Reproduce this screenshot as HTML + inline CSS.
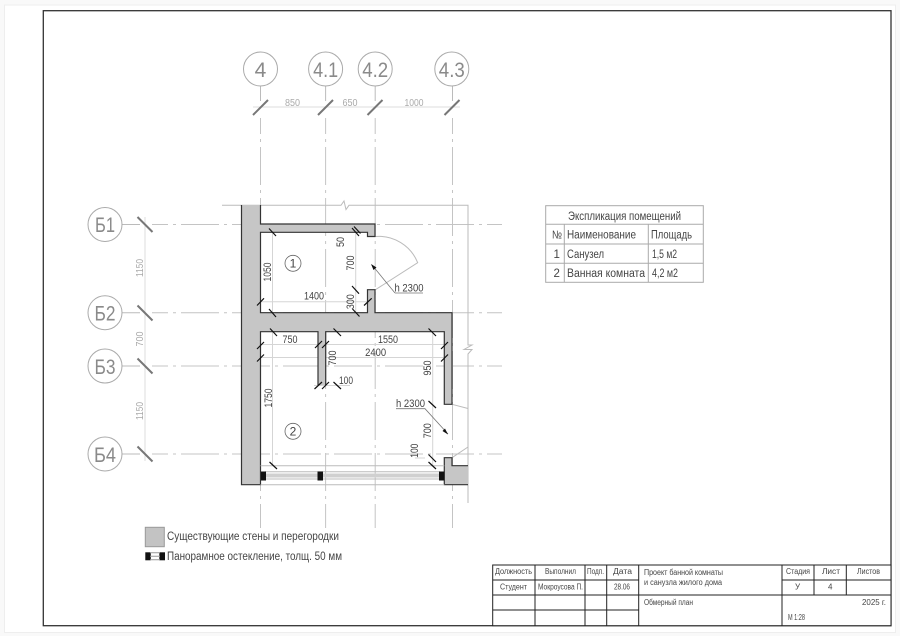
<!DOCTYPE html>
<html><head><meta charset="utf-8"><style>
html,body{margin:0;padding:0;background:#fff}
svg{display:block}
text{font-family:"Liberation Sans","DejaVu Sans",sans-serif;fill:#444}
</style></head><body>
<svg width="900" height="636" viewBox="0 0 900 636" xmlns="http://www.w3.org/2000/svg">
<rect width="900" height="636" fill="#f9f9f9"/>
<rect x="4.5" y="5" width="891" height="627.5" fill="#fff" stroke="#eee"/>
<rect x="43.3" y="10.7" width="847.7" height="615" fill="none" stroke="#333" stroke-width="1.3"/>

<!-- grid axes -->
<g stroke="#c4c4c4" stroke-width="1" fill="none" stroke-dasharray="38 5 3 5" stroke-dashoffset="22">
<path d="M260.5 118V528M325.6 118V528M375.2 118V528M452.5 118V528"/>
<path d="M152 224.5H502M152 312.7H502M152 366H502M152 454H502"/>
</g>
<g stroke="#bbb" stroke-width="1" fill="none">
<path d="M260.5 86V101M325.6 86V101M375.2 86V101M452.5 86V101"/>
<path d="M122 224.5H140M122 312.7H140M122 366H140M122 454H140"/>
</g>
<g stroke="#ddd" stroke-width="1" fill="none">
<path d="M253 107H460M145 217V461"/>
</g>
<g fill="#fff" stroke="#aaa" stroke-width="1">
<circle cx="260.5" cy="69" r="17"/><circle cx="325.6" cy="69" r="17"/><circle cx="375.2" cy="69" r="17"/><circle cx="451.8" cy="69" r="17"/>
<circle cx="105" cy="224.5" r="17"/><circle cx="105" cy="312.7" r="17"/><circle cx="105" cy="366" r="17"/><circle cx="105" cy="454" r="17"/>
</g>
<g stroke="#777" stroke-width="2" fill="none">
<path d="M253 115L268 100M318 115L333 100M367.5 115L382.5 100M444.5 115L459.5 100"/>
<path d="M137.5 217L152.5 232M137.5 305.5L152.5 320.5M137.5 358.5L152.5 373.5M137.5 446.5L152.5 461.5"/>
</g>
<g font-size="21" text-anchor="middle">
<text x="260.5" y="77" style="fill:#8a8a8a">4</text>
<text x="325.6" y="77" style="fill:#8a8a8a" textLength="25" lengthAdjust="spacingAndGlyphs">4.1</text>
<text x="375.2" y="77" style="fill:#8a8a8a" textLength="26" lengthAdjust="spacingAndGlyphs">4.2</text>
<text x="451.8" y="77" style="fill:#8a8a8a" textLength="26" lengthAdjust="spacingAndGlyphs">4.3</text>
<text x="105" y="232" style="fill:#8a8a8a" textLength="20" lengthAdjust="spacingAndGlyphs">Б1</text>
<text x="105" y="320.5" style="fill:#8a8a8a" textLength="21" lengthAdjust="spacingAndGlyphs">Б2</text>
<text x="105" y="373.8" style="fill:#8a8a8a" textLength="21" lengthAdjust="spacingAndGlyphs">Б3</text>
<text x="105" y="461.8" style="fill:#8a8a8a" textLength="22" lengthAdjust="spacingAndGlyphs">Б4</text>
</g>
<g font-size="10" text-anchor="middle">
<text x="292.5" y="106" style="fill:#aaa" textLength="15" lengthAdjust="spacingAndGlyphs">850</text>
<text x="350" y="106" style="fill:#aaa" textLength="15" lengthAdjust="spacingAndGlyphs">650</text>
<text x="414" y="106" style="fill:#aaa" textLength="19" lengthAdjust="spacingAndGlyphs">1000</text>
<text transform="translate(143 268) rotate(-90)" style="fill:#aaa" textLength="18" lengthAdjust="spacingAndGlyphs">1150</text>
<text transform="translate(143 339) rotate(-90)" style="fill:#aaa" textLength="15" lengthAdjust="spacingAndGlyphs">700</text>
<text transform="translate(143 411) rotate(-90)" style="fill:#aaa" textLength="18" lengthAdjust="spacingAndGlyphs">1150</text>
</g>

<!-- building outline helpers -->
<g fill="none" stroke="#bbb" stroke-width="1">
<path d="M222 205.3H341L344 201L346 209.5L349 205.3H468V345L472 345L464 349.5L472 349.5L468 354V503"/>
<path d="M375 236.5A42 42 0 0 1 417.7 262.7L375 290"/>
<path d="M452 404.3L468 408.5M452 457.7L468 447"/>
</g>

<!-- dimension lines -->
<g fill="none" stroke="#d5d5d5" stroke-width="1">
<path d="M272.5 232V312.7M272.5 332V465.7M257 301.7H372M257 344.5H448M257 357.5H448M355.7 226V316M432.7 332V466M325.7 332V385M314 385.500H350M415 458H425"/>
</g>

<!-- walls -->
<path d="M241.5 205H260.5V224H375V236.5H367.5V232.3H260.5V312.7H367.5V289.7H375V312.7H452V404.3H444.3V331.7H325.7V385H318V331.7H260.5V484.7H241.5Z" fill="#c6c6c6"/>
<path d="M444.3 457.7H452V465.7H468V484.7H444.3Z" fill="#c6c6c6"/>
<g fill="none" stroke="#333" stroke-width="1.2">
<path d="M260.5 205V224H375V236.5H367.5V232.3H260.5V312.7H367.5V289.7H375V312.7H452V404.3H444.3V331.7H325.7V385M318 385V331.7H260.5V484.7H241.5V205"/>
<path d="M468 465.7H452V457.7H444.3V484.7H468"/>
</g>

<!-- window -->
<g fill="none" stroke="#bbb" stroke-width="1">
<path d="M260.5 465.7H444.3M260.5 484.7H444.3M265 471.7H440M265 479H440"/>
</g>
<rect x="265" y="473.5" width="175" height="4" fill="#d0d0d0"/>
<g fill="#111">
<rect x="261" y="471.5" width="5" height="9"/><rect x="317.5" y="471.5" width="5.5" height="9"/><rect x="439" y="471.5" width="5.3" height="9"/>
</g>

<!-- dimension ticks -->
<g fill="none" stroke="#111" stroke-width="1.2">
<path d="M269 228.5L276 236M269 309L276 317M257 305.5L264 298.3M364 305.5L371.7 298.3"/>
<path d="M352 228L359 236M354 226.5L360.5 233.5M352 286L359 293.7M352.5 309L359.5 316.5"/>
<path d="M270 328.5L277 336M333.5 328.5L341 336M428.5 328.5L436 336"/>
<path d="M257 349L264 342M257 361.5L264 354.5M315 348L322 341M322 348L329 341M441 349L448 342M441 361.5L448 354.5"/>
<path d="M314.5 389L322 382M322 389L329 382M333.5 382L341 389"/>
<path d="M428.5 401L436 408M428.5 454.5L436 462M428.5 462L436 469M269.5 462L277 469"/>
</g>

<!-- leaders -->
<g fill="none" stroke="#777" stroke-width="0.8">
<path d="M395 293H423M395 293L372 265"/>
<path d="M396 408.7H425L448 434"/>
</g>
<path d="M371 264L376.5 267.5L373.5 270Z" fill="#111"/>
<path d="M448 434.5L442.5 431L445 428.5Z" fill="#111"/>

<!-- plan dims -->
<g font-size="11" text-anchor="middle" lengthAdjust="spacingAndGlyphs">
<text transform="translate(271 272) rotate(-90)" textLength="19" lengthAdjust="spacingAndGlyphs">1050</text>
<text x="314" y="299.5" textLength="20" lengthAdjust="spacingAndGlyphs">1400</text>
<text transform="translate(344 242) rotate(-90)" textLength="10" lengthAdjust="spacingAndGlyphs">50</text>
<text transform="translate(354 263) rotate(-90)" textLength="15" lengthAdjust="spacingAndGlyphs">700</text>
<text transform="translate(354 301.7) rotate(-90)" textLength="15" lengthAdjust="spacingAndGlyphs">300</text>
<text x="290" y="343" textLength="15" lengthAdjust="spacingAndGlyphs">750</text>
<text x="388" y="343" textLength="20" lengthAdjust="spacingAndGlyphs">1550</text>
<text x="375.6" y="356" textLength="21" lengthAdjust="spacingAndGlyphs">2400</text>
<text transform="translate(336 358) rotate(-90)" textLength="15" lengthAdjust="spacingAndGlyphs">700</text>
<text x="346" y="384" textLength="14" lengthAdjust="spacingAndGlyphs">100</text>
<text transform="translate(431 368) rotate(-90)" textLength="15" lengthAdjust="spacingAndGlyphs">950</text>
<text transform="translate(431 430.7) rotate(-90)" textLength="15" lengthAdjust="spacingAndGlyphs">700</text>
<text transform="translate(418 450.7) rotate(-90)" textLength="14" lengthAdjust="spacingAndGlyphs">100</text>
<text transform="translate(272 398) rotate(-90)" textLength="19" lengthAdjust="spacingAndGlyphs">1750</text>
<text x="409" y="291.5" textLength="29" lengthAdjust="spacingAndGlyphs">h 2300</text>
<text x="410.5" y="407" textLength="29" lengthAdjust="spacingAndGlyphs">h 2300</text>
</g>
<g fill="#fff" stroke="#666" stroke-width="0.8"><circle cx="293" cy="263.3" r="8"/><circle cx="293" cy="431.3" r="8"/></g>
<g font-size="12" text-anchor="middle"><text x="293" y="267.5">1</text><text x="293" y="435.5">2</text></g>

<!-- explication table -->
<g fill="none" stroke="#aaa" stroke-width="1">
<rect x="545.7" y="205.7" width="157.6" height="76.6"/>
<path d="M545.7 224.3H703.3M545.7 244H703.3M545.7 263.3H703.3M564.3 224.3V282.3M648.3 224.3V282.3"/>
</g>
<g font-size="11.5">
<text x="568" y="220" textLength="113" lengthAdjust="spacingAndGlyphs">Экспликация помещений</text>
<text x="552" y="238.5" textLength="10" lengthAdjust="spacingAndGlyphs">№</text>
<text x="567" y="238.5" textLength="69" lengthAdjust="spacingAndGlyphs">Наименование</text>
<text x="651" y="238.5" textLength="41" lengthAdjust="spacingAndGlyphs">Площадь</text>
<text x="553.5" y="258">1</text><text x="567" y="258" textLength="37" lengthAdjust="spacingAndGlyphs">Санузел</text><text x="652" y="258" textLength="25" lengthAdjust="spacingAndGlyphs">1,5 м2</text>
<text x="553.5" y="277">2</text><text x="567" y="277" textLength="78" lengthAdjust="spacingAndGlyphs">Ванная комната</text><text x="652" y="277" textLength="26" lengthAdjust="spacingAndGlyphs">4,2 м2</text>
</g>

<!-- legend -->
<rect x="145.3" y="527.3" width="19" height="19.4" fill="#c3c3c3" stroke="#999"/>
<text x="167" y="540" font-size="11.5" textLength="172" lengthAdjust="spacingAndGlyphs">Существующие стены и перегородки</text>
<rect x="145.3" y="552.3" width="5.5" height="8" fill="#111"/><rect x="159.3" y="552.3" width="5.7" height="8" fill="#111"/>
<path d="M150 552.8H160M150 556.3H160M150 559.8H160" stroke="#999" fill="none"/>
<text x="167" y="560" font-size="11.5" textLength="175" lengthAdjust="spacingAndGlyphs">Панорамное остекление, толщ. 50 мм</text>

<!-- title block -->
<rect x="492.7" y="565" width="398.3" height="60.7" fill="#fff" stroke="#222" stroke-width="1"/>
<g fill="none" stroke="#222" stroke-width="1">
<path d="M492.7 580H638.7M782 580H891M492.7 595H891M492.7 610H638.7"/>
<path d="M535 565V625.7M585 565V625.7M606.7 565V625.7M638.7 565V625.7M782 565V625.7M814 565V595M846.3 565V595"/>
</g>
<g font-size="8">
<text x="495" y="574" textLength="37" lengthAdjust="spacingAndGlyphs">Должность</text>
<text x="545" y="574" textLength="31" lengthAdjust="spacingAndGlyphs">Выполнил</text>
<text x="587" y="574" textLength="17" lengthAdjust="spacingAndGlyphs">Подп.</text>
<text x="613" y="574" textLength="19" lengthAdjust="spacingAndGlyphs">Дата</text>
<text x="644" y="575" textLength="79" lengthAdjust="spacingAndGlyphs">Проект банной комнаты</text>
<text x="644" y="585" textLength="78" lengthAdjust="spacingAndGlyphs">и санузла жилого дома</text>
<text x="786" y="574" textLength="24" lengthAdjust="spacingAndGlyphs">Стадия</text>
<text x="822" y="574" textLength="18" lengthAdjust="spacingAndGlyphs">Лист</text>
<text x="857" y="574" textLength="23" lengthAdjust="spacingAndGlyphs">Листов</text>
<text x="500" y="589.5" textLength="27" lengthAdjust="spacingAndGlyphs">Студент</text>
<text x="538" y="589.5" textLength="45" lengthAdjust="spacingAndGlyphs">Мокроусова П.</text>
<text x="614" y="589.5" textLength="16" lengthAdjust="spacingAndGlyphs">28.06</text>
<text x="795" y="589.5">У</text>
<text x="828" y="589.5">4</text>
<text x="644" y="605" textLength="49" lengthAdjust="spacingAndGlyphs">Обмерный план</text>
<text x="862" y="605" textLength="24" lengthAdjust="spacingAndGlyphs">2025 г.</text>
<text x="788" y="620" textLength="17" lengthAdjust="spacingAndGlyphs">М 1:28</text>
</g>
</svg>
</body></html>
